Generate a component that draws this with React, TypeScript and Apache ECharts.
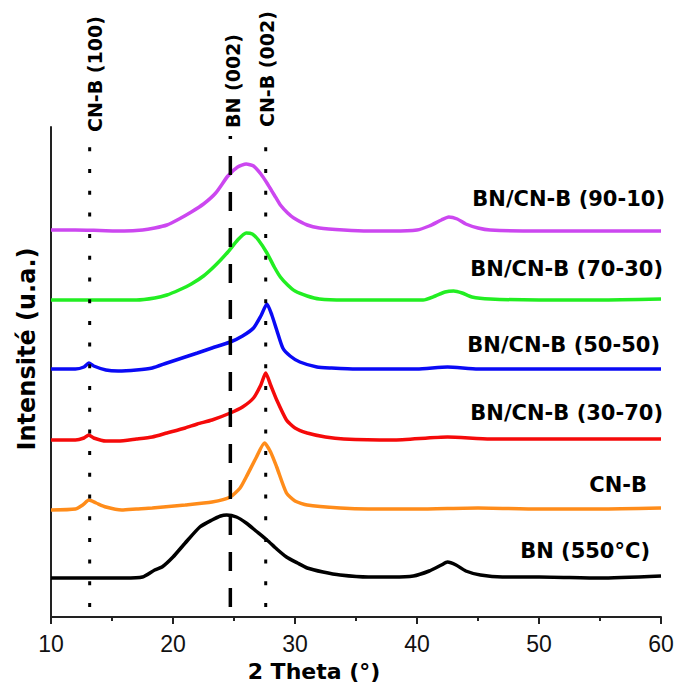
import React, { useEffect, useRef } from "react";
import * as echarts from "echarts";

// 2θ (deg) vs stacked intensity (arbitrary units, offset per sample)
const bn9010: [number, number][] = [
  [10, 387], [12, 387], [14, 386.5], [16, 386], [17.5, 387], [18.5, 389], [19.5, 392], [20.5, 398],
  [21.5, 405], [22.5, 413], [23.5, 424], [24.5, 441], [25.3, 450], [26, 453], [26.6, 451], [27.2, 443],
  [27.7, 434], [28.3, 422], [28.8, 412], [29.4, 404], [29.9, 399], [31, 392], [32, 389], [34, 387],
  [36, 386], [38, 386], [40, 387], [41, 391], [42, 397], [42.6, 400], [43.3, 398], [44, 393],
  [45, 389], [46, 387], [50, 386], [55, 386], [60, 386],
];
const bn7030: [number, number][] = [
  [10, 317], [14, 317], [17, 317], [18.5, 319], [19.5, 322], [20.5, 327], [21.5, 333], [22.5, 341],
  [23.5, 352], [24.5, 365], [25.3, 377], [26, 384], [26.5, 383], [27, 377], [27.7, 364], [28.3, 350],
  [28.8, 340], [29.4, 332], [30, 326], [31, 321], [32, 318], [34, 317], [38, 317], [40.5, 317],
  [41.5, 321], [42.3, 325], [43, 326], [43.7, 324], [44.5, 320], [46, 318], [50, 317], [55, 317], [60, 318],
];
const bn5050: [number, number][] = [
  [10, 248], [12, 248], [12.7, 250], [13.1, 254], [13.5, 251], [14.5, 247], [15.5, 246], [17, 247],
  [18.3, 249], [19.5, 254], [21, 260], [22, 264], [23.2, 269], [24.7, 275], [25.7, 281], [26.6, 289],
  [27.2, 301], [27.7, 313], [28.1, 302], [28.5, 287], [29, 269], [29.6, 261], [30.4, 255], [31.8, 250],
  [33, 249], [35, 248], [40, 248], [42.5, 250], [45, 248], [50, 248], [55, 248], [60, 248],
];
const bn3070: [number, number][] = [
  [10, 177], [12, 177], [12.7, 179], [13.1, 182], [13.5, 179], [14.5, 176], [15.5, 176], [17, 178],
  [18.3, 180], [19.5, 184], [21, 189], [22, 193], [23.2, 197], [24.7, 204], [25.7, 210], [26.6, 219],
  [27.2, 232], [27.6, 244], [28, 232], [28.5, 217], [29.3, 197], [30, 189], [31, 184], [32.5, 180],
  [34, 178], [38, 177], [42.5, 180], [46, 178], [50, 178], [55, 178], [60, 178],
];
const cnb: [number, number][] = [
  [10, 107], [12, 108], [12.6, 112], [13.1, 117], [13.7, 114], [14.5, 110], [15.8, 107], [17, 108],
  [18.3, 109], [21, 112], [23.2, 115], [24.7, 120], [25.5, 129], [26, 140], [26.8, 159], [27.5, 174],
  [28, 165], [28.5, 150], [29.3, 124], [30, 116], [31, 112], [33.7, 109], [36, 108], [40, 108],
  [45, 109], [50, 108], [55, 108], [60, 109],
];
const bn550: [number, number][] = [
  [10, 39], [12, 39], [14, 39], [16, 39], [17.5, 40], [18.5, 47], [19.1, 50], [20, 60], [21, 74],
  [22.2, 90], [23.2, 97], [23.9, 101], [24.4, 102], [25.2, 100], [26, 94], [26.8, 86], [27.7, 77],
  [28.5, 68], [29.3, 60], [30.2, 54], [31, 49], [32.3, 45], [33.7, 42], [36, 40], [38, 40], [39.7, 41],
  [41, 46], [42, 52], [42.5, 55], [43.2, 52], [44, 46], [45.2, 42], [47, 40], [50, 40], [55, 39], [60, 41],
];

const seriesNames = ["BN/CN-B (90-10)", "BN/CN-B (70-30)", "BN/CN-B (50-50)", "BN/CN-B (30-70)", "CN-B", "BN (550°C)"];
const seriesData = [bn9010, bn7030, bn5050, bn3070, cnb, bn550];
const seriesColors = ["#CC47F0", "#22EE22", "#0A0AF5", "#F50A0A", "#FF8C1A", "#000000"];

// reference lines (2θ) and labels
const refPositions = [13.17, 24.7, 27.6];
const refLabels = ["CN-B (100)", "BN (002)", "CN-B (002)"];
const refTops = [480, 481, 487];
const refBottom = 10;

const xTicks = { min: 10, max: 60, interval: 10 };

export default function App() {
  const ref = useRef<HTMLDivElement>(null);
  useEffect(() => {
    if (!ref.current) return;
    const chart = echarts.init(ref.current, undefined, { renderer: "svg" });
    const boldFont = "DejaVu Sans";
    const seriesLabelPos = [
      [665, 199], [663, 269], [660, 345], [663, 413], [647, 485], [650, 551],
    ];
    const refLabelPos = [
      [95, 132], [233, 128], [267, 127],
    ];
    const graphics: any[] = [];
    seriesNames.forEach((n, i) => {
      graphics.push({
        type: "text",
        x: seriesLabelPos[i][0],
        y: seriesLabelPos[i][1],
        style: {
          text: n, fill: "#000", fontSize: 21, fontWeight: "bold", fontFamily: boldFont,
          align: "right", textAlign: "right", verticalAlign: "middle", textVerticalAlign: "middle",
        },
      });
    });
    refLabels.forEach((n, i) => {
      graphics.push({
        type: "text",
        x: refLabelPos[i][0],
        y: refLabelPos[i][1],
        rotation: Math.PI / 2,
        style: {
          text: n, fill: "#000", fontSize: 19, fontWeight: "bold", fontFamily: boldFont,
          align: "left", textAlign: "left", verticalAlign: "middle", textVerticalAlign: "middle",
        },
      });
    });
    graphics.push({
      type: "text", x: 314, y: 671,
      style: {
        text: "2 Theta (°)", fill: "#000", fontSize: 22, fontWeight: "bold", fontFamily: boldFont,
        align: "center", textAlign: "center", verticalAlign: "middle", textVerticalAlign: "middle",
      },
    });
    graphics.push({
      type: "text", x: 27, y: 349, rotation: Math.PI / 2,
      style: {
        text: "Intensité (u.a.)", fill: "#000", fontSize: 24, fontWeight: "bold", fontFamily: boldFont,
        align: "center", textAlign: "center", verticalAlign: "middle", textVerticalAlign: "middle",
      },
    });

    const series: any[] = seriesData.map((d, i) => ({
      name: seriesNames[i],
      type: "line",
      data: d,
      showSymbol: false,
      symbol: "none",
      smooth: 0.2,
      lineStyle: { color: seriesColors[i], width: 3.5 },
      z: 2,
    }));
    refPositions.forEach((x, i) => {
      series.push({
        name: refLabels[i],
        type: "line",
        data: [[x, refBottom], [x, refTops[i]]],
        showSymbol: false,
        symbol: "none",
        lineStyle: {
          color: "#000",
          width: i === 1 ? 3.5 : 3,
          type: i === 1 ? [19, 17] : [4, 17.7],
        },
        z: 3,
      });
    });

    chart.setOption({
      animation: false,
      backgroundColor: "#fff",
      grid: { left: 51, right: 15, top: 127, bottom: 71, containLabel: false, outerBoundsMode: "none" },
      xAxis: {
        type: "value",
        min: xTicks.min,
        max: xTicks.max,
        interval: xTicks.interval,
        axisLine: { show: true, onZero: false, lineStyle: { color: "#222", width: 2 } },
        axisTick: { show: true, length: 7, lineStyle: { color: "#222", width: 2 } },
        minorTick: { show: true, splitNumber: 2, length: 4, lineStyle: { color: "#222", width: 2 } },
        splitLine: { show: false },
        axisLabel: { fontSize: 23, fontFamily: "Liberation Sans", color: "#111", margin: 15 },
      },
      yAxis: {
        type: "value",
        min: 0,
        max: 490,
        axisLine: { show: true, onZero: false, lineStyle: { color: "#222", width: 2 } },
        axisTick: { show: false },
        axisLabel: { show: false },
        splitLine: { show: false },
      },
      graphic: graphics,
      series,
    });
    return () => chart.dispose();
  }, []);
  return <div ref={ref} style={{ position: "fixed", left: 0, top: 0, width: 676, height: 688 }} />;
}
